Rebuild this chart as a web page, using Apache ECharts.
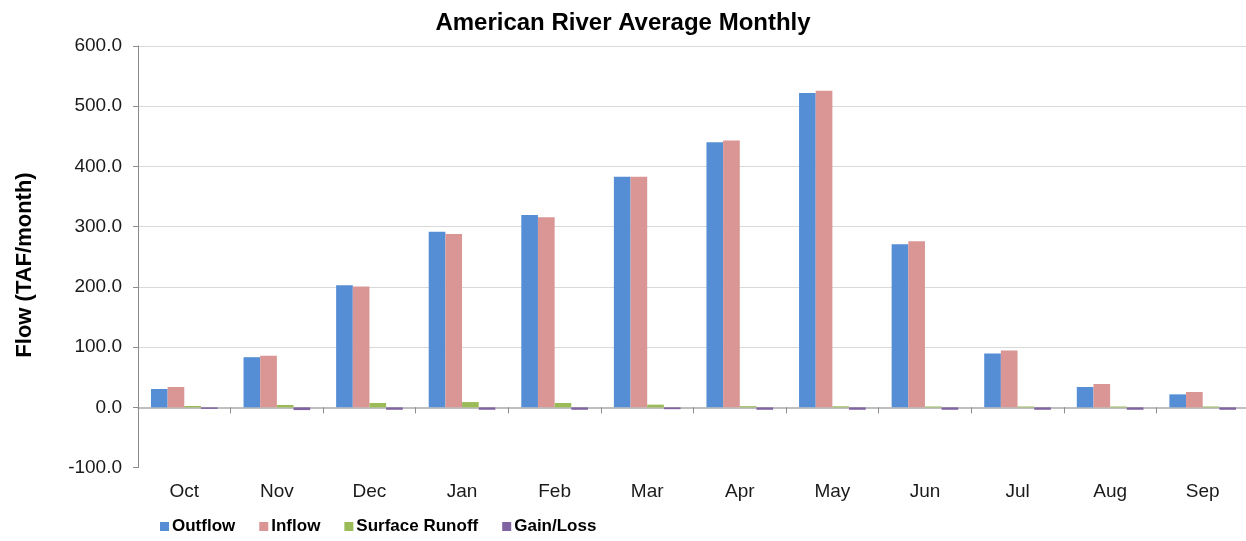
<!DOCTYPE html>
<html>
<head>
<meta charset="utf-8">
<script src="https://cdn.jsdelivr.net/npm/echarts@6/dist/echarts.min.js"></script>
<style>
html,body{margin:0;padding:0;background:#fff;}
#chart{width:1246px;height:541px;}
</style>
</head>
<body>
<div id="chart"></div>
<script>
const categories = ['Oct','Nov','Dec','Jan','Feb','Mar','Apr','May','Jun','Jul','Aug','Sep'];
const outflow  = [30.5, 83.3, 202.7, 291.4, 319.5, 382.8, 440.0, 522.0, 271.0, 89.6, 33.8, 21.6];
const inflow   = [33.8, 85.6, 200.5, 288.0, 315.6, 382.8, 443.0, 525.5, 276.0, 94.6, 38.8, 25.5];
const runoff   = [2.3, 4.0, 7.3, 8.8, 7.3, 4.5, 2.0, 1.8, 1.5, 1.5, 1.5, 1.5];
const gainLoss = [-2.5, -4.5, -4.0, -4.0, -4.0, -3.0, -4.0, -4.0, -4.0, -4.0, -4.0, -4.0];
const seriesNames = ['Outflow','Inflow','Surface Runoff','Gain/Loss'];
const colors = ['#558ED5','#D99694','#9BBB59','#8064A2'];

const FONT = '"Liberation Sans", Arial, sans-serif';
const chart = echarts.init(document.getElementById('chart'));
const dataSets = [outflow, inflow, runoff, gainLoss];

chart.setOption({
  animation: false,
  color: colors,
  title: {
    text: 'American River Average Monthly',
    left: 'center',
    top: 6,
    textStyle: { fontFamily: FONT, fontSize: 24, fontWeight: 'bold', color: '#000' }
  },
  graphic: [{
    type: 'text',
    x: 25, y: 265,
    rotation: Math.PI / 2,
    style: {
      text: 'Flow (TAF/month)',
      font: 'bold 22px ' + FONT,
      fill: '#000',
      align: 'center',
      verticalAlign: 'middle'
    }
  }],
  legend: {
    left: 160,
    top: 518,
    padding: 0,
    icon: 'rect',
    itemWidth: 9,
    itemHeight: 9,
    itemGap: 24,
    data: seriesNames,
    textStyle: { fontFamily: FONT, fontSize: 17, fontWeight: 'bold', color: '#000', padding: [0,0,0,-2] }
  },
  grid: { left: 138, right: -3, top: 46, bottom: 73.4, containLabel: false, outerBoundsMode: 'none' },
  xAxis: {
    type: 'category',
    data: categories,
    axisLine: { onZero: true, lineStyle: { color: '#ababab', width: 1.5 } },
    axisTick: { show: true, length: 6, lineStyle: { color: '#8c8c8c' } },
    axisLabel: { margin: 15, fontFamily: FONT, fontSize: 19, color: '#1a1a1a' },
    splitLine: { show: false }
  },
  yAxis: {
    type: 'value',
    min: -100,
    max: 600,
    interval: 100,
    axisLine: { show: true, lineStyle: { color: '#8c8c8c', width: 1 } },
    axisTick: { show: true, length: 5, lineStyle: { color: '#8c8c8c' } },
    axisLabel: { margin: 16, fontFamily: FONT, fontSize: 19, color: '#1a1a1a', formatter: v => v.toFixed(1) },
    splitLine: { show: true, lineStyle: { color: ['rgba(0,0,0,0)','rgba(0,0,0,0)','#d9d9d9','#d9d9d9','#d9d9d9','#d9d9d9','#d9d9d9','#d9d9d9'], width: 1.2 } }
  },
  series: seriesNames.map((name, i) => ({
    name: name,
    type: 'bar',
    data: dataSets[i],
    barGap: '0%',
    barCategoryGap: '28%',
    itemStyle: { color: colors[i] }
  }))
});
</script>
</body>
</html>
